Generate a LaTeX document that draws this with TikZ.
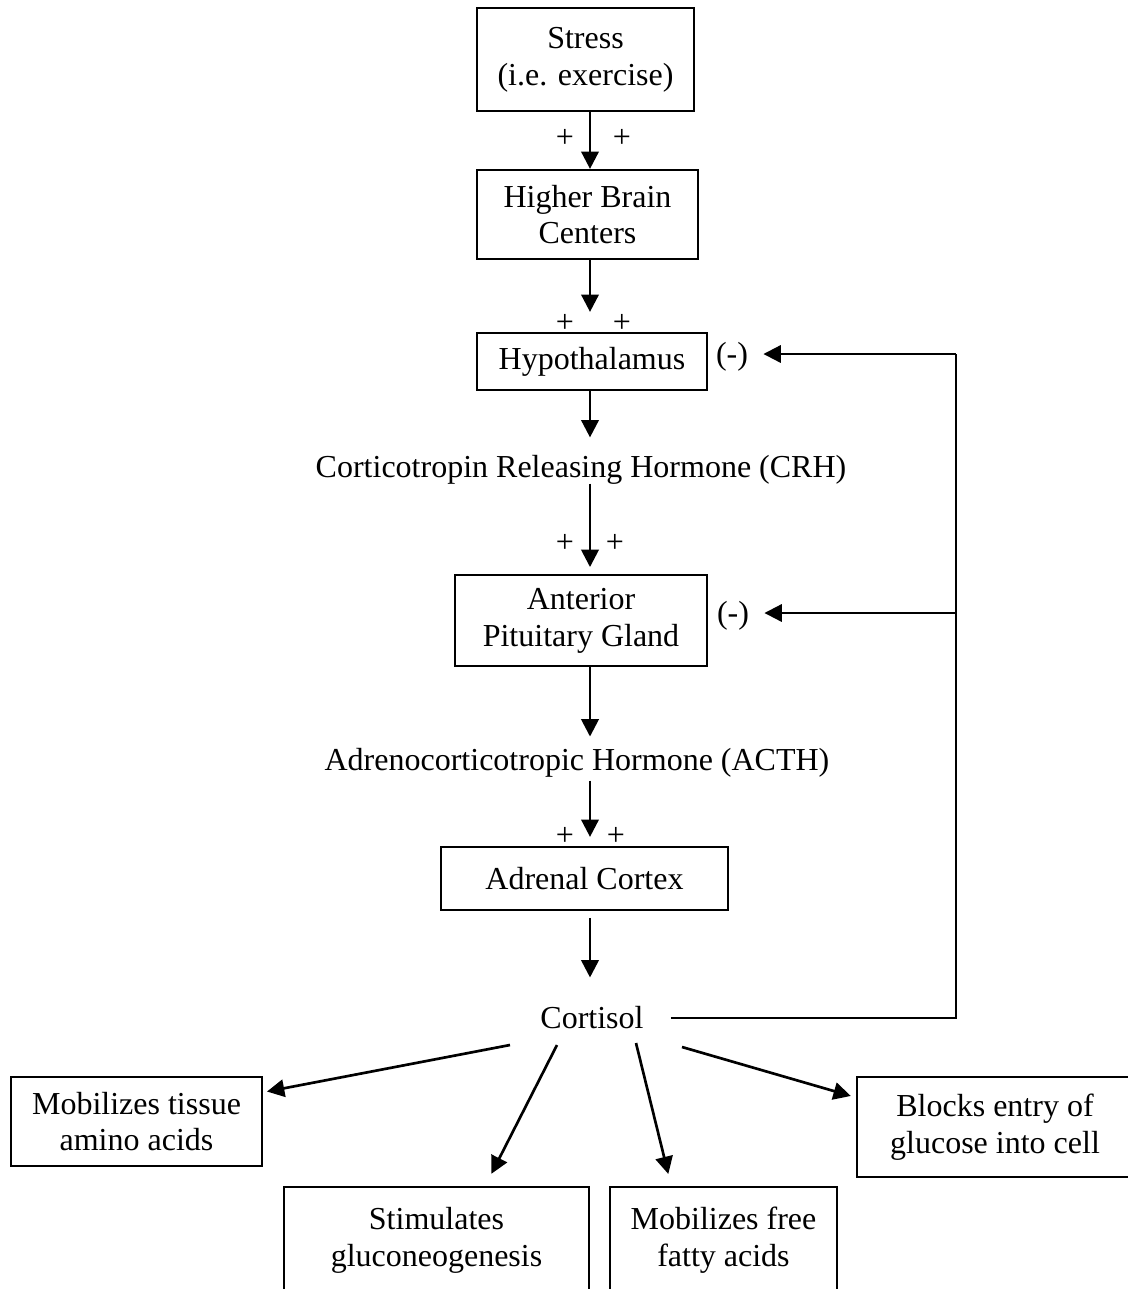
\documentclass[tikz,border=0pt]{standalone}
\usepackage{fontspec}
\setmainfont{Liberation Serif}
\usetikzlibrary{arrows.meta}

\begin{document}
\begin{tikzpicture}[x=0.375pt, y=-0.375pt,
  font=\fontsize{12pt}{13.8pt}\selectfont,
  box/.style={draw, line width=0.8pt, inner sep=0pt, align=center},
  lbl/.style={inner sep=0pt, text height=8pt, text depth=0pt},
  arr/.style={line width=1pt, -{Triangle[length=6.5pt, width=6.5pt]}},
  fbline/.style={line width=0.8pt}]

\useasboundingbox (0,0) rectangle (1127,1289);

% Spine of the main arrows
\coordinate (axis) at (590,0);


% Stress
\node[box, minimum width=81.4pt, minimum height=38.6pt] (stress) at (585.5,59.5) {Stress\\(i.e. exercise)};

\node[lbl] (plusA1) at (565,137) {+};
\node[lbl] (plusA2) at (622,137) {+};


% Higher brain centers
\node[box, minimum width=82.9pt, minimum height=33.4pt] (brain) at (587.5,214.5) {Higher Brain\\Centers};

\node[lbl] (plusB1) at (565,322) {+};
\node[lbl] (plusB2) at (622,322) {+};


% Hypothalamus
\node[box, minimum width=86.3pt, minimum height=21.4pt] (hypo) at (592,361.5) {Hypothalamus};

\node[lbl] (negA) at (732,354) {(-)};


% CRH
\node[lbl] (crh) at (581,467) {Corticotropin Releasing Hormone (CRH)};

\node[lbl] (plusC1) at (565,542) {+};
\node[lbl] (plusC2) at (615,542) {+};


% Anterior pituitary
\node[box, minimum width=94.5pt, minimum height=34.1pt] (apg) at (581,620.5) {Anterior\\Pituitary Gland};

\node[lbl] (negB) at (733,613) {(-)};


% ACTH
\node[lbl] (acth) at (577,760) {Adrenocorticotropic Hormone (ACTH)};

\node[lbl] (plusD1) at (565,835) {+};
\node[lbl] (plusD2) at (616,835) {+};


% Adrenal cortex
\node[box, minimum width=107.6pt, minimum height=23.6pt] (cortex) at (584.5,878.5) {Adrenal Cortex};


% Cortisol
\node[lbl] (cort) at (592,1018) {Cortisol};


% Effects of cortisol
\node[box, minimum width=94.1pt, minimum height=33.4pt] (amino) at (136.5,1121.5) {Mobilizes tissue\\amino acids};
\node[box, minimum width=114.4pt, minimum height=39.8pt] (stim) at (436.5,1240) {Stimulates\\gluconeogenesis};
\node[box, minimum width=85.1pt, minimum height=39.8pt] (fatty) at (723.5,1240) {Mobilizes free\\fatty acids};
\node[box, minimum width=103.5pt, minimum height=37.5pt] (blocks) at (995,1127) {Blocks entry of\\glucose into cell};


% Main chain
\draw[arr] (stress.south -| axis) -- (brain.north -| axis);
\draw[arr, shorten >=7.5pt] (brain.south -| axis) -- (hypo.north -| axis);
\draw[arr, shorten >=6.9pt] (hypo.south -| axis) -- (crh.north -| axis);
\draw[arr, shorten <=2pt, shorten >=2.6pt] (crh.south -| axis) -- (apg.north -| axis);
\draw[arr, shorten >=4.6pt] (apg.south -| axis) -- (acth.north -| axis);
\draw[arr, shorten <=3.5pt, shorten >=3.4pt] (acth.south -| axis) -- (cortex.north -| axis);
\draw[arr, shorten <=2.6pt, shorten >=11pt] (cortex.south -| axis) -- (cort.north -| axis);


% Negative feedback
\coordinate (fb) at (956,354);
\draw[fbline, shorten <=10pt] (cort.east) -| (fb);
\draw[arr, fbline, shorten >=5.6pt] (fb) -- (negA);
\draw[arr, fbline, shorten >=5.6pt] (fb |- negB) -- (negB);


% Cortisol arrows
\coordinate (tailA) at (510,1045);
\coordinate (tailB) at (557,1045);
\coordinate (tailC) at (636,1043);
\coordinate (tailD) at (682,1047);

\draw[arr, shorten >=1.5pt] (tailA) -- (amino.13);
\draw[arr, shorten >=5.1pt] (tailB) -- (stim.48.9);
\draw[arr, shorten >=4.6pt] (tailC) -- (fatty.134.2);
\draw[arr, shorten >=2pt] (tailD) -- (blocks.168.3);

\end{tikzpicture}
\end{document}
